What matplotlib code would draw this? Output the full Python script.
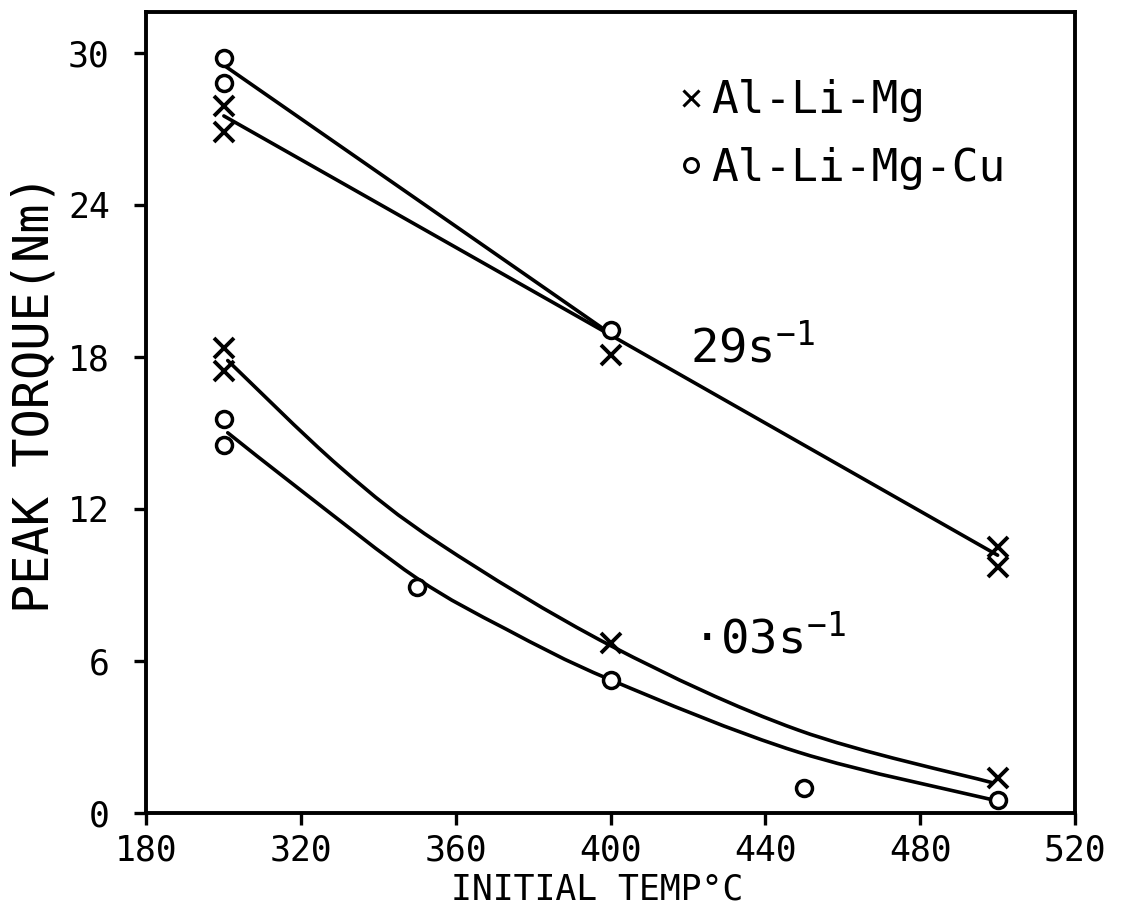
import matplotlib
matplotlib.use("Agg")
import matplotlib.pyplot as plt
from matplotlib.lines import Line2D
from matplotlib.path import Path
from matplotlib.patches import PathPatch

plt.rcParams['font.family'] = ['DejaVu Sans Mono', 'DejaVu Sans']
plt.rcParams['mathtext.fontset'] = 'custom'
plt.rcParams['mathtext.rm'] = 'DejaVu Sans Mono'
plt.rcParams['mathtext.it'] = 'DejaVu Sans Mono'
plt.rcParams['mathtext.default'] = 'regular'

# axis ticks
x_ticks = [280, 320, 360, 400, 440, 480, 520]
x_tick_labels = ['180', '320', '360', '400', '440', '480', '520']
y_ticks = [0, 6, 12, 18, 24, 30]

# measured peak torque, Al-Li-Mg (x)
almg_29_T = [300, 300, 400, 500, 500]
almg_29_q = [27.9, 26.85, 18.05, 10.5, 9.7]
almg_03_T = [300, 300, 400, 500]
almg_03_q = [18.35, 17.45, 6.7, 1.38]

# measured peak torque, Al-Li-Mg-Cu (o)
alcu_29_T = [300, 300, 400]
alcu_29_q = [29.8, 28.8, 19.05]
alcu_03_T = [300, 300, 350, 400, 450, 500]
alcu_03_q = [15.55, 14.5, 8.9, 5.25, 1.0, 0.52]

# hand-drawn trend lines
fit_almg_29_T = [300, 400, 500]
fit_almg_29_q = [27.5, 18.85, 10.17]
fit_alcu_29_T = [300, 400]
fit_alcu_29_q = [29.5, 18.9]
fit_almg_03_T = [301, 330, 356, 400, 448.5, 498.5]
fit_almg_03_q = [17.85, 13.65, 10.6, 6.6, 3.27, 1.2]
fit_alcu_03_T = [301, 321, 350, 373, 400, 448.5, 499]
fit_alcu_03_q = [15.0, 12.6, 9.25, 7.25, 5.25, 2.4, 0.51]


def smooth_curve(xs, ys):
    """Bezier path passing through the given knots (Catmull-Rom tangents)."""
    pts = list(zip(xs, ys))
    n = len(pts)
    verts = [pts[0]]
    codes = [Path.MOVETO]
    for i in range(n - 1):
        p0 = pts[i - 1] if i > 0 else pts[i]
        p1 = pts[i]
        p2 = pts[i + 1]
        p3 = pts[i + 2] if i + 2 < n else pts[i + 1]
        c1 = (p1[0] + (p2[0] - p0[0]) / 6.0, p1[1] + (p2[1] - p0[1]) / 6.0)
        c2 = (p2[0] - (p3[0] - p1[0]) / 6.0, p2[1] - (p3[1] - p1[1]) / 6.0)
        verts += [c1, c2, p2]
        codes += [Path.CURVE4, Path.CURVE4, Path.CURVE4]
    return Path(verts, codes)


fig = plt.figure(figsize=(11.26, 9.10), dpi=100)
ax = fig.add_axes([0.1301, 0.1066, 0.8246, 0.8802])

LW = 2.6
line_kw = dict(color='black', lw=LW, solid_capstyle='round', solid_joinstyle='round')
ax.plot(fit_almg_29_T, fit_almg_29_q, **line_kw)
ax.plot(fit_alcu_29_T, fit_alcu_29_q, **line_kw)
for cx, cy in [(fit_almg_03_T, fit_almg_03_q), (fit_alcu_03_T, fit_alcu_03_q)]:
    ax.add_patch(PathPatch(smooth_curve(cx, cy), fill=False, edgecolor='black',
                           lw=LW, capstyle='round', joinstyle='round'))

x_kw = dict(ls='none', marker='x', ms=14, mew=2.8, color='black')
o_kw = dict(ls='none', marker='o', ms=11.5, mew=2.5, mfc='white', mec='black')
ax.plot(almg_29_T, almg_29_q, **x_kw)
ax.plot(almg_03_T, almg_03_q, **x_kw)
ax.plot(alcu_29_T, alcu_29_q, **o_kw)
ax.plot(alcu_03_T, alcu_03_q, **o_kw)

ax.set_xlim(280, 520)
ax.set_ylim(0, 31.6)
ax.set_xticks(x_ticks)
ax.set_xticklabels(x_tick_labels)
ax.set_yticks(y_ticks)
ax.tick_params(direction='out', length=8.5, width=2.4, labelsize=25)
ax.tick_params(axis='x', pad=6)
ax.tick_params(axis='y', pad=18)
for side in ['left', 'right', 'top', 'bottom']:
    ax.spines[side].set_linewidth(2.8)

ax.set_xlabel('INITIAL TEMP°C', fontsize=25, va='center')
ax.xaxis.set_label_coords(0.485, -0.096)
ax.set_ylabel('PEAK TORQUE(Nm)', fontsize=35, va='center')
ax.yaxis.set_label_coords(-0.121, 0.523)

ax.text(420.6, 17.78, '29s$^{-1}$', fontsize=34, ha='left', va='baseline')
ax.text(420.9, 6.31, '·03s$^{-1}$', fontsize=34, ha='left', va='baseline')

handles = [
    Line2D([], [], ls='none', marker='x', ms=11, mew=2.2, color='black'),
    Line2D([], [], ls='none', marker='o', ms=10, mew=2.2, mfc='white', mec='black'),
]
ax.legend(handles, ['Al-Li-Mg', 'Al-Li-Mg-Cu'], loc='upper left',
          bbox_to_anchor=(0.5746, 0.916), frameon=False, fontsize=32,
          handlelength=0.5, handletextpad=0.2, borderpad=0, borderaxespad=0,
          labelspacing=0.55)

fig.savefig('out.png', dpi=100, facecolor='white')
